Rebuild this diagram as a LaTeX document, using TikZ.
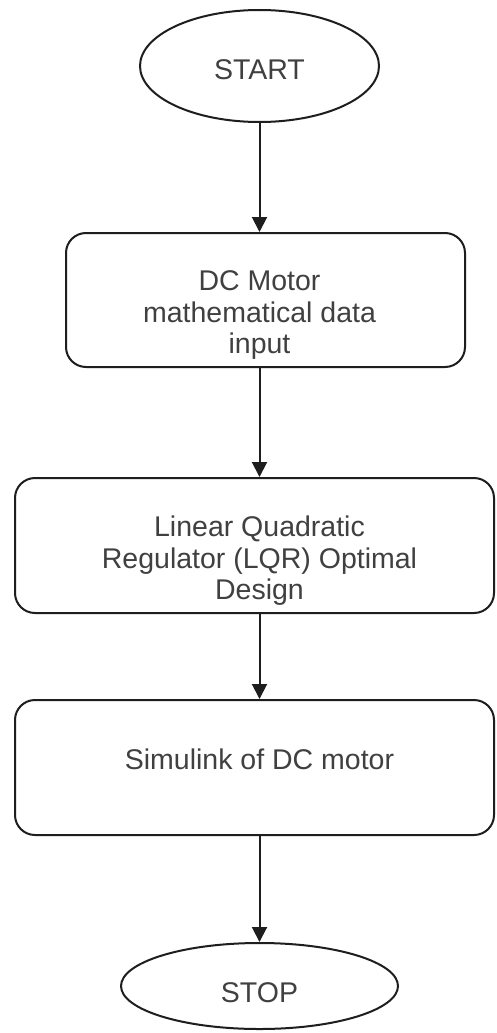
\documentclass[tikz,border=0pt]{standalone}
\usepackage{fontspec}
\setmainfont{Liberation Sans}
\usetikzlibrary{shapes.geometric,arrows.meta}
\definecolor{linec}{HTML}{1E1E1E}
\definecolor{textc}{HTML}{404040}
\begin{document}
\begin{tikzpicture}[x=1pt,y=-1pt,
  shapeline/.style={draw=linec,line width=2pt},
  oval/.style={shapeline,ellipse,inner sep=0pt},
  procbox/.style={shapeline,rectangle,rounded corners=20pt,inner sep=0pt},
  lbl/.style={text=textc,font=\fontsize{28.5}{31.5}\selectfont,align=center,inner sep=0pt,anchor=base},
  arr/.style={draw=linec,line width=2pt,-{Triangle[length=15pt,width=15pt]}}]
\useasboundingbox (0,0) rectangle (496,1033);
\fill[white] (0,0) rectangle (496,1033);
\node[oval,minimum width=239pt,minimum height=112pt] (start) at (259.5,66) {};
\node[procbox,minimum width=399pt,minimum height=134pt] (b1) at (265.5,300) {};
\node[procbox,minimum width=479pt,minimum height=135pt] (b2) at (254.5,545.5) {};
\node[procbox,minimum width=479pt,minimum height=135pt] (b3) at (254.5,767.5) {};
\node[oval,minimum width=277pt,minimum height=86pt] (stop) at (259.5,986) {};
\node[lbl] (tstart) at (259.5,80) {START};
\node[lbl] (t1) at (259.5,353.5) {DC Motor\\mathematical data\\input};
\node[lbl] (t2) at (259.5,599.5) {Linear Quadratic\\Regulator (LQR) Optimal\\Design};
\node[lbl] (t3) at (259.5,769) {Simulink of DC motor};
\node[lbl] (tstop) at (259.5,1002) {STOP};
\draw[arr] (start.south) -- (start.south |- b1.north);
\draw[arr] (start.south |- b1.south) -- (start.south |- b2.north);
\draw[arr] (start.south |- b2.south) -- (start.south |- b3.north);
\draw[arr] (start.south |- b3.south) -- (stop.north);
\end{tikzpicture}
\end{document}
